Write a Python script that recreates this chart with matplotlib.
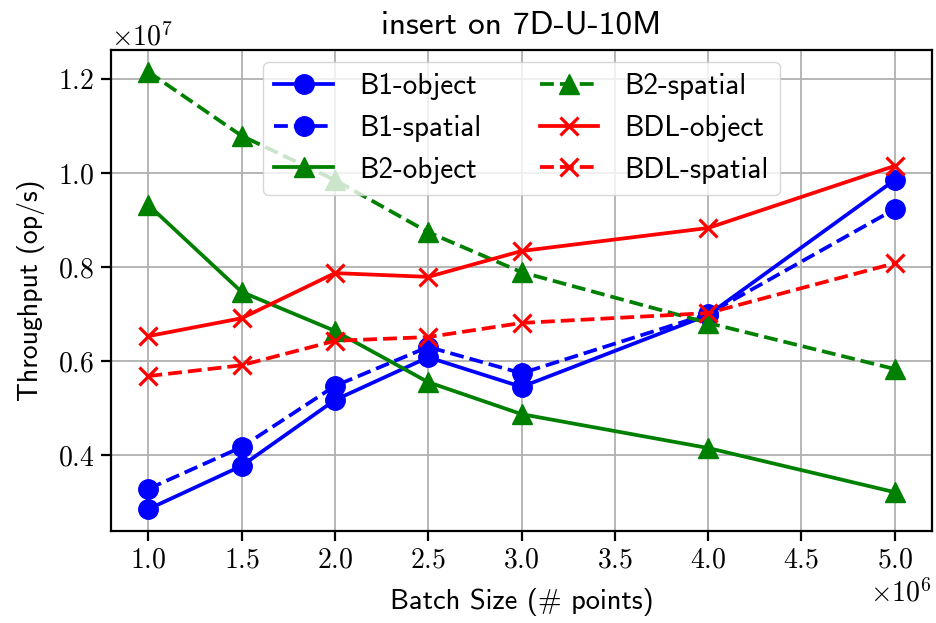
import matplotlib
matplotlib.use("Agg")
import matplotlib.pyplot as plt

batch_sizes = [1.0e6, 1.5e6, 2.0e6, 2.5e6, 3.0e6, 4.0e6, 5.0e6]
b1_object = [0.285e7, 0.377e7, 0.517e7, 0.608e7, 0.545e7, 0.698e7, 0.985e7]
b1_spatial = [0.328e7, 0.417e7, 0.547e7, 0.630e7, 0.574e7, 0.700e7, 0.923e7]
b2_object = [0.932e7, 0.747e7, 0.664e7, 0.555e7, 0.487e7, 0.415e7, 0.321e7]
b2_spatial = [1.215e7, 1.079e7, 0.985e7, 0.874e7, 0.789e7, 0.681e7, 0.583e7]
bdl_object = [0.653e7, 0.691e7, 0.787e7, 0.779e7, 0.834e7, 0.883e7, 1.015e7]
bdl_spatial = [0.568e7, 0.591e7, 0.643e7, 0.651e7, 0.681e7, 0.702e7, 0.808e7]

plt.rcParams['font.family'] = ['cmr10', 'DejaVu Serif']
plt.rcParams['mathtext.fontset'] = 'cm'
plt.rcParams['axes.unicode_minus'] = False
plt.rcParams['axes.formatter.use_mathtext'] = True

sans = ['cmss10', 'DejaVu Sans']

fig = plt.figure(figsize=(9.37, 6.23), dpi=100)
ax = fig.add_axes([0.1185, 0.1477, 0.8762, 0.772])

lw = 2.7
ms = 14
ax.plot(batch_sizes, b1_object, color='blue', linestyle='-', marker='o', lw=lw, ms=ms, label='B1-object')
ax.plot(batch_sizes, b1_spatial, color='blue', linestyle='--', marker='o', lw=lw, ms=ms, label='B1-spatial')
ax.plot(batch_sizes, b2_object, color='green', linestyle='-', marker='^', lw=lw, ms=ms, label='B2-object')
ax.plot(batch_sizes, b2_spatial, color='green', linestyle='--', marker='^', lw=lw, ms=ms, label='B2-spatial')
ax.plot(batch_sizes, bdl_object, color='red', linestyle='-', marker='x', lw=lw, ms=13, mew=2.3, label='BDL-object')
ax.plot(batch_sizes, bdl_spatial, color='red', linestyle='--', marker='x', lw=lw, ms=13, mew=2.3, label='BDL-spatial')

ax.grid(True, color='#b0b0b0', linewidth=1.3)
ax.set_axisbelow(True)
for s in ax.spines.values():
    s.set_linewidth(1.6)
ax.tick_params(axis='both', labelsize=20, length=7, width=1.6, pad=5)
ax.xaxis.get_offset_text().set_fontsize(20)
ax.yaxis.get_offset_text().set_fontsize(20)

ax.set_xticks([1.0e6, 1.5e6, 2.0e6, 2.5e6, 3.0e6, 3.5e6, 4.0e6, 4.5e6, 5.0e6])
ax.set_yticks([0.4e7, 0.6e7, 0.8e7, 1.0e7, 1.2e7])

ax.set_xlabel('Batch Size (# points)', fontsize=20.5, family=sans, labelpad=10)
ax.set_ylabel('Throughput (op/s)', fontsize=20, family=sans, labelpad=9)
ax.set_title('insert on 7D-U-10M', fontsize=24, family=sans, pad=12)

leg = ax.legend(loc='upper center', ncol=2, prop={'family': sans, 'size': 21},
                handlelength=2.0, columnspacing=2.0, borderaxespad=0.4,
                handletextpad=0.9, labelspacing=0.5)

fig.savefig('out.png', dpi=100)
